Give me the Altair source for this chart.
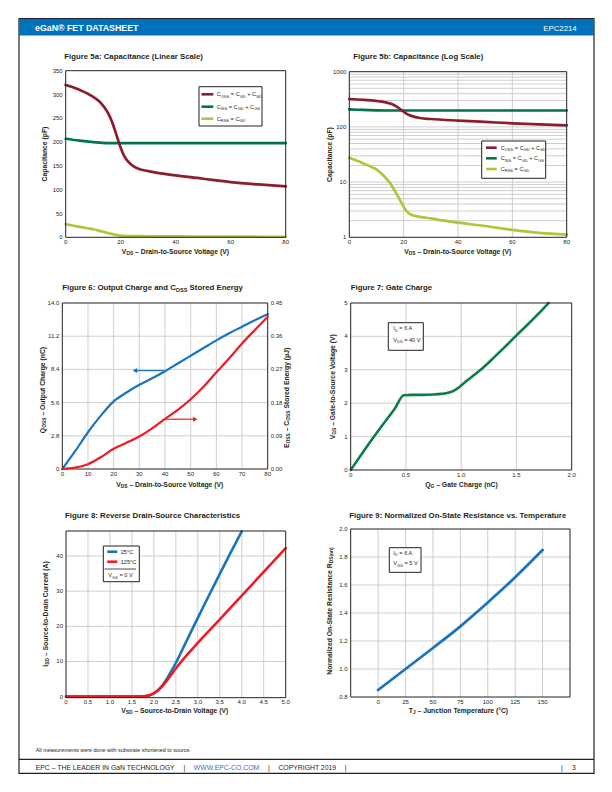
import altair as alt
import pandas as pd

W, H = 612, 792
FONT = "Liberation Sans, Arial, sans-serif"
INK = "#231F20"
GRID = "#C8C8C8"
C_COSS = "#8C1D2F"
C_CISS = "#00754A"
C_CRSS = "#A8C93A"
BLUE = "#1B75BC"
RED = "#ED1C24"
GREEN = "#0B7D48"
HEADER = "#0072BC"
LINK = "#3A6DB5"

# ---------------- data ----------------
# Figure 5: capacitance vs V_DS
coss_vds = [0, 5, 10, 13, 15, 16, 17, 18, 19, 20, 21, 22, 24, 26, 30, 40, 50, 60, 70, 80]
coss_pf = [320, 310, 295, 281, 265, 254, 240, 223, 205, 188, 174, 164, 152, 145, 139, 130, 123, 116, 111, 107]
ciss_vds = [0, 5, 10, 15, 20, 40, 60, 80]
ciss_pf = [207, 203, 200, 198, 198, 198, 198, 198]
crss_vds = [0, 5, 8, 10, 12, 14, 15, 16, 17, 18, 19, 20, 21, 22, 24, 26, 30, 35, 40, 50, 60, 70, 80]
crss_pf = [27.5, 22, 19, 17, 14, 11, 9.6, 8, 6.6, 5.4, 4.4, 3.6, 3.0, 2.7, 2.45, 2.35, 2.2, 2.0, 1.84, 1.6, 1.36, 1.2, 1.12]

# Figure 6: output charge and stored energy
q_vds = [0, 5, 10, 15, 20, 25, 30, 35, 40, 45, 50, 55, 60, 65, 70, 75, 80]
qoss_nc = [0, 1.5, 3.1, 4.5, 5.7, 6.45, 7.1, 7.65, 8.25, 8.9, 9.55, 10.2, 10.85, 11.45, 12.0, 12.55, 13.05]
eoss_uj = [0, 0.004, 0.013, 0.032, 0.055, 0.071, 0.088, 0.11, 0.136, 0.16, 0.189, 0.223, 0.262, 0.300, 0.340, 0.377, 0.413]

# Figure 7: gate charge
qg_nc = [0, 0.1, 0.2, 0.3, 0.4, 0.48, 0.55, 0.65, 0.75, 0.82, 0.88, 0.93, 0.97, 1.0, 1.05, 1.1, 1.2, 1.3, 1.4, 1.5, 1.6, 1.7, 1.79]
vgs_v = [0, 0.48, 0.95, 1.4, 1.84, 2.24, 2.25, 2.25, 2.26, 2.28, 2.31, 2.37, 2.45, 2.53, 2.67, 2.8, 3.07, 3.38, 3.7, 4.03, 4.35, 4.68, 5.0]

# Figure 8: reverse drain-source characteristics
vsd_25 = [0, 0.5, 1.0, 1.5, 1.7, 1.8, 1.9, 2.0, 2.1, 2.2, 2.3, 2.4, 2.5, 2.75, 3.0, 3.25, 3.5, 3.75, 4.0]
isd_25 = [0, 0, 0, 0, 0.02, 0.08, 0.3, 0.9, 1.9, 3.3, 5.2, 7.3, 9.6, 16.0, 22.4, 28.7, 34.9, 41.0, 47.0]
vsd_125 = [0, 0.5, 1.0, 1.5, 1.7, 1.8, 1.9, 2.0, 2.1, 2.2, 2.3, 2.4, 2.5, 2.75, 3.0, 3.5, 4.0, 4.5, 5.0]
isd_125 = [0, 0, 0, 0, 0.05, 0.15, 0.45, 1.0, 1.9, 3.1, 4.6, 6.3, 8.0, 11.8, 15.3, 22.0, 28.7, 35.5, 42.2]

# Figure 9: normalized on-state resistance
tj_c = [0, 25, 50, 75, 100, 125, 150]
rds_norm = [0.85, 1.0, 1.15, 1.305, 1.475, 1.655, 1.85]

# tick values and labels
ticks_5_x = [0, 20, 40, 60, 80]
labels_5_x = ["0", "20", "40", "60", "80"]
ticks_5a_y = [0, 50, 100, 150, 200, 250, 300, 350]
labels_5a_y = ["0", "50", "100", "150", "200", "250", "300", "350"]
ticks_5b_y = [1, 10, 100, 1000]
labels_5b_y = ["1", "10", "100", "1000"]
ticks_6_x = [0, 10, 20, 30, 40, 50, 60, 70, 80]
labels_6_x = ["0", "10", "20", "30", "40", "50", "60", "70", "80"]
ticks_6_q = [0, 2.8, 5.6, 8.4, 11.2, 14.0]
labels_6_q = ["0", "2.8", "5.6", "8.4", "11.2", "14.0"]
ticks_6_e = [0, 0.09, 0.18, 0.27, 0.36, 0.45]
labels_6_e = ["0.00", "0.09", "0.18", "0.27", "0.36", "0.45"]
ticks_7_x = [0, 0.5, 1.0, 1.5, 2.0]
labels_7_x = ["0", "0.5", "1.0", "1.5", "2.0"]
ticks_7_y = [0, 1, 2, 3, 4, 5]
labels_7_y = ["0", "1", "2", "3", "4", "5"]
ticks_8_x = [0, 0.5, 1.0, 1.5, 2.0, 2.5, 3.0, 3.5, 4.0, 4.5, 5.0]
labels_8_x = ["0", "0.5", "1.0", "1.5", "2.0", "2.5", "3.0", "3.5", "4.0", "4.5", "5.0"]
ticks_8_y = [0, 10, 20, 30, 40]
labels_8_y = ["0", "10", "20", "30", "40"]
ticks_9_x = [0, 25, 50, 75, 100, 125, 150]
labels_9_x = ["0", "25", "50", "75", "100", "125", "150"]
ticks_9_y = [0.8, 1.0, 1.2, 1.4, 1.6, 1.8, 2.0]
labels_9_y = ["0.8", "1.0", "1.2", "1.4", "1.6", "1.8", "2.0"]

TK = 6.0  # tick label size


# ---------------- helpers ----------------
def sc(dom, rng, typ="linear"):
    return alt.Scale(type=typ, domain=dom, range=rng, nice=False, zero=False)


def curve(xv, yv, xs, ys, color, width):
    df = pd.DataFrame({"x": xv, "y": yv})
    return alt.Chart(df).mark_line(color=color, strokeWidth=width, interpolate="monotone",
                                   strokeCap="round").encode(
        x=alt.X("x:Q", scale=xs, axis=None),
        y=alt.Y("y:Q", scale=ys, axis=None))


def vgrid(vals, ydom, xs, ys):
    df = pd.DataFrame({"g": vals, "a": [ydom[0]] * len(vals), "b": [ydom[1]] * len(vals)})
    return alt.Chart(df).mark_rule(color=GRID, strokeWidth=0.9).encode(
        x=alt.X("g:Q", scale=xs, axis=None),
        y=alt.Y("a:Q", scale=ys, axis=None), y2="b:Q")


def hgrid(vals, xdom, xs, ys):
    df = pd.DataFrame({"g": vals, "a": [xdom[0]] * len(vals), "b": [xdom[1]] * len(vals)})
    return alt.Chart(df).mark_rule(color=GRID, strokeWidth=0.9).encode(
        y=alt.Y("g:Q", scale=ys, axis=None),
        x=alt.X("a:Q", scale=xs, axis=None), x2="b:Q")


def frame(xdom, ydom, xs, ys):
    df = pd.DataFrame({"x0": [xdom[0]], "x1": [xdom[1]], "y0": [ydom[0]], "y1": [ydom[1]]})
    return alt.Chart(df).mark_rect(fillOpacity=0, stroke=INK, strokeWidth=1).encode(
        x=alt.X("x0:Q", scale=xs, axis=None), x2="x1:Q",
        y=alt.Y("y0:Q", scale=ys, axis=None), y2="y1:Q")


def xlabels(vals, labels, xs, ys, y0):
    df = pd.DataFrame({"v": vals, "t": labels, "a": [y0] * len(vals)})
    return alt.Chart(df).mark_text(font=FONT, fontSize=TK, color=INK, baseline="top",
                                   align="center", dy=1.5).encode(
        x=alt.X("v:Q", scale=xs, axis=None), y=alt.Y("a:Q", scale=ys, axis=None), text="t:N")


def ylabels(vals, labels, xs, ys, x0, side="left"):
    df = pd.DataFrame({"v": vals, "t": labels, "a": [x0] * len(vals)})
    left = side == "left"
    return alt.Chart(df).mark_text(font=FONT, fontSize=TK, color=INK, baseline="middle",
                                   align="right" if left else "left",
                                   dx=-3 if left else 3).encode(
        y=alt.Y("v:Q", scale=ys, axis=None), x=alt.X("a:Q", scale=xs, axis=None), text="t:N")


def arrow(x0, x1, y, xs, ys, color, shape):
    shaft = alt.Chart(pd.DataFrame({"a": [x0], "b": [x1], "y": [y]})).mark_rule(
        color=color, strokeWidth=1.2).encode(
        x=alt.X("a:Q", scale=xs, axis=None), x2="b:Q",
        y=alt.Y("y:Q", scale=ys, axis=None))
    head = alt.Chart(pd.DataFrame({"x": [x1], "y": [y]})).mark_point(
        shape=shape, filled=True, color=color, size=26, opacity=1).encode(
        x=alt.X("x:Q", scale=xs, axis=None),
        y=alt.Y("y:Q", scale=ys, axis=None))
    return [shaft, head]


# ---------------- rich text (subscripts) ----------------
UP = "ABCDEFGHIJKLMNOPQRSTUVWXYZ"
LO = "abcdefghijklmnopqrstuvwxyz"
REG_W = dict(zip(UP, [667, 667, 722, 722, 667, 611, 778, 722, 278, 500, 667, 556, 833, 722, 778, 667, 778, 722, 667, 611, 722, 667, 944, 667, 667, 611]))
REG_W.update(zip(LO, [556, 556, 500, 556, 556, 278, 556, 556, 222, 222, 500, 222, 833, 556, 556, 556, 556, 333, 500, 278, 556, 500, 722, 500, 500, 500]))
BOLD_W = dict(zip(UP, [722, 722, 722, 722, 667, 611, 778, 722, 278, 556, 722, 611, 833, 722, 778, 667, 778, 722, 667, 611, 722, 667, 944, 667, 667, 611]))
BOLD_W.update(zip(LO, [556, 611, 556, 611, 556, 333, 611, 611, 278, 278, 556, 278, 889, 611, 611, 611, 611, 389, 556, 333, 611, 556, 778, 556, 556, 500]))
PUNCT = {" ": 278, ".": 278, ",": 278, ":": 300, "-": 333, "\u2013": 556, "(": 333, ")": 333,
         "=": 584, "+": 584, "\u00b0": 400, "\u03bc": 576, "\u00ae": 737, "|": 260, "/": 278}
for d in (REG_W, BOLD_W):
    d.update(PUNCT)
    d.update({c: 556 for c in "0123456789"})
SUB = 0.72

ROWS = []


def parse(s):
    segs, buf, i = [], "", 0
    while i < len(s):
        if s.startswith("_{", i):
            if buf:
                segs.append((buf, False))
                buf = ""
            j = s.index("}", i)
            segs.append((s[i + 2:j], True))
            i = j + 1
        else:
            buf += s[i]
            i += 1
    if buf:
        segs.append((buf, False))
    return segs


def rich(s, x, y, size, bold=False, anchor="start", angle=0, color=INK):
    table = BOLD_W if bold else REG_W

    def width(t, fs):
        return sum(table.get(c, 556) for c in t) / 1000.0 * fs

    segs = parse(s)
    ws = [width(t, size * SUB if sub else size) for t, sub in segs]
    total = sum(ws)
    pos = {"start": 0, "middle": -total / 2, "end": -total}[anchor]
    for (t, sub), w in zip(segs, ws):
        fs = size * SUB if sub else size
        lead = len(t) - len(t.lstrip(" "))
        p = pos + width(" " * lead, fs)
        tt = t.strip(" ")
        drop = size * 0.22 if sub else 0
        if tt:
            if angle == 0:
                px, py = x + p, y + drop
            else:
                px, py = x + drop, y - p
            ROWS.append(dict(x=px, y=py, text=tt, size=fs, angle=angle, color=color, bold=bold))
        pos += w
    return x + pos


# ---------------- panels ----------------
# Figure 5a
xs5a = sc([0, 80], [65.7, 285.7])
ys5a = sc([0, 350], [237.3, 70.7])
p5a = alt.layer(
    curve(ciss_vds, ciss_pf, xs5a, ys5a, C_CISS, 2.7),
    curve(coss_vds, coss_pf, xs5a, ys5a, C_COSS, 2.7),
    curve(crss_vds, crss_pf, xs5a, ys5a, C_CRSS, 2.7),
    frame([0, 80], [0, 350], xs5a, ys5a),
    xlabels(ticks_5_x, labels_5_x, xs5a, ys5a, 0),
    ylabels(ticks_5a_y, labels_5a_y, xs5a, ys5a, 0),
)

# Figure 5b
xs5b = sc([0, 80], [349.3, 566.7])
ys5b = sc([1, 1000], [237.3, 71.7], "log")
log_grid = [m * 10 ** e for e in range(3) for m in range(1, 10)][1:]
p5b = alt.layer(
    hgrid(log_grid, [0, 80], xs5b, ys5b),
    vgrid([20, 40, 60], [1, 1000], xs5b, ys5b),
    curve(ciss_vds, ciss_pf, xs5b, ys5b, C_CISS, 2.7),
    curve(coss_vds, coss_pf, xs5b, ys5b, C_COSS, 2.7),
    curve(crss_vds, crss_pf, xs5b, ys5b, C_CRSS, 2.7),
    frame([0, 80], [1, 1000], xs5b, ys5b),
    xlabels(ticks_5_x, labels_5_x, xs5b, ys5b, 1),
    ylabels(ticks_5b_y, labels_5b_y, xs5b, ys5b, 0),
)

# Figure 6
xs6 = sc([0, 80], [62.3, 267.7])
yq6 = sc([0, 14], [469, 303])
ye6 = sc([0, 0.45], [469, 303])
p6_left = alt.layer(
    vgrid([10, 20, 30, 40, 50, 60, 70], [0, 14], xs6, yq6),
    hgrid([2.8, 5.6, 8.4, 11.2], [0, 80], xs6, yq6),
    curve(q_vds, qoss_nc, xs6, yq6, BLUE, 2.2),
    *arrow(39.5, 28.3, 8.3, xs6, yq6, BLUE, "triangle-left"),
    frame([0, 80], [0, 14], xs6, yq6),
    xlabels(ticks_6_x, labels_6_x, xs6, yq6, 0),
    ylabels(ticks_6_q, labels_6_q, xs6, yq6, 0),
)
p6_right = alt.layer(
    curve(q_vds, eoss_uj, xs6, ye6, RED, 2.2),
    *arrow(40.2, 51.8, 0.135, xs6, ye6, RED, "triangle-right"),
    ylabels(ticks_6_e, labels_6_e, xs6, ye6, 80, side="right"),
)
p6 = alt.layer(p6_left, p6_right).resolve_scale(y="independent")

# Figure 7
xs7 = sc([0, 2], [350.7, 571.7])
ys7 = sc([0, 5], [470, 303])
p7 = alt.layer(
    vgrid([0.5, 1.0, 1.5], [0, 5], xs7, ys7),
    hgrid([1, 2, 3, 4], [0, 2], xs7, ys7),
    curve(qg_nc, vgs_v, xs7, ys7, GREEN, 2.6),
    frame([0, 2], [0, 5], xs7, ys7),
    xlabels(ticks_7_x, labels_7_x, xs7, ys7, 0),
    ylabels(ticks_7_y, labels_7_y, xs7, ys7, 0),
)

# Figure 8
xs8 = sc([0, 5], [66, 285.7])
ys8 = sc([-0.3, 47.1], [697.7, 531])
p8 = alt.layer(
    vgrid([0.5, 1.0, 1.5, 2.0, 2.5, 3.0, 3.5, 4.0, 4.5], [-0.3, 47.1], xs8, ys8),
    hgrid([10, 20, 30, 40], [0, 5], xs8, ys8),
    curve(vsd_25, isd_25, xs8, ys8, BLUE, 2.6),
    curve(vsd_125, isd_125, xs8, ys8, RED, 2.6),
    frame([0, 5], [-0.3, 47.1], xs8, ys8),
    xlabels(ticks_8_x, labels_8_x, xs8, ys8, -0.3),
    ylabels(ticks_8_y, labels_8_y, xs8, ys8, 0),
)

# Figure 9
xs9 = sc([-25, 175], [350.7, 570])
ys9 = sc([0.8, 2.0], [697, 529])
p9 = alt.layer(
    vgrid([0, 25, 50, 75, 100, 125, 150], [0.8, 2.0], xs9, ys9),
    hgrid([1.0, 1.2, 1.4, 1.6, 1.8], [-25, 175], xs9, ys9),
    curve(tj_c, rds_norm, xs9, ys9, BLUE, 2.8),
    frame([-25, 175], [0.8, 2.0], xs9, ys9),
    xlabels(ticks_9_x, labels_9_x, xs9, ys9, 0.8),
    ylabels(ticks_9_y, labels_9_y, xs9, ys9, -25),
)


# ---------------- page decoration ----------------
def px_rect(df, **mk):
    return alt.Chart(df).mark_rect(**mk).encode(
        x=alt.X("x0:Q", scale=None), x2="x1:Q", y=alt.Y("y0:Q", scale=None), y2="y1:Q")


header_bar = px_rect(pd.DataFrame({"x0": [19.5], "x1": [593.5], "y0": [19], "y1": [35.5]}),
                     color=HEADER)
page_frame = px_rect(pd.DataFrame({"x0": [19], "x1": [594], "y0": [18.5], "y1": [773.3]}),
                     fillOpacity=0, stroke=INK, strokeWidth=1.2)
legend_boxes = px_rect(pd.DataFrame({
    "x0": [199, 481.7, 388.3, 103.3, 389.3],
    "x1": [262, 545.7, 423.3, 139.3, 421],
    "y0": [86.7, 141, 322.7, 546, 547.7],
    "y1": [126, 178.3, 350.3, 581.7, 572.3]}),
    fill="white", stroke=INK, strokeWidth=1)

footer_rule = alt.Chart(pd.DataFrame({"x0": [19], "x1": [594], "y": [759.3]})).mark_rule(
    color=INK, strokeWidth=1.2).encode(
    x=alt.X("x0:Q", scale=None), x2="x1:Q", y=alt.Y("y:Q", scale=None))

key_lines = alt.Chart(pd.DataFrame({
    "x0": [201.5, 201.5, 201.5, 486, 486, 486, 107.3, 107.3],
    "x1": [213.3, 213.3, 213.3, 496.7, 496.7, 496.7, 117.3, 117.3],
    "y": [94.3, 106.7, 118.7, 147.7, 158.3, 169, 551.7, 561.7],
    "c": [C_COSS, C_CISS, C_CRSS, C_COSS, C_CISS, C_CRSS, BLUE, RED]})).mark_rule(
    strokeWidth=2.6).encode(
    x=alt.X("x0:Q", scale=None), x2="x1:Q", y=alt.Y("y:Q", scale=None),
    color=alt.Color("c:N", scale=None))

sep_line = alt.Chart(pd.DataFrame({"x0": [104.5], "x1": [136], "y": [569]})).mark_rule(
    color=INK, strokeWidth=0.8).encode(
    x=alt.X("x0:Q", scale=None), x2="x1:Q", y=alt.Y("y:Q", scale=None))

# ---------------- texts ----------------
rich("eGaN\u00ae FET DATASHEET", 35, 30.8, 8.8, bold=True, color="white")
rich("EPC2214", 576.7, 30.8, 7.8, anchor="end", color="white")

TS = 7.8
rich("Figure 5a: Capacitance (Linear Scale)", 64.3, 58.5, TS, bold=True)
rich("Figure 5b: Capacitance (Log Scale)", 353.3, 58.5, TS, bold=True)
rich("Figure 6: Output Charge and C_{OSS} Stored Energy", 62.3, 290.3, TS, bold=True)
rich("Figure 7: Gate Charge", 350.7, 290.3, TS, bold=True)
rich("Figure 8: Reverse Drain-Source Characteristics", 65, 518.3, TS, bold=True)
rich("Figure 9: Normalized On-State Resistance vs. Temperature", 349.3, 517.7, TS, bold=True)

AS = 6.8
rich("V_{DS} \u2013 Drain-to-Source Voltage (V)", 175.7, 253.5, AS, bold=True, anchor="middle")
rich("Capacitance (pF)", 47, 154, AS, bold=True, anchor="middle", angle=270)
rich("V_{DS} \u2013 Drain-to-Source Voltage (V)", 458, 253.5, AS, bold=True, anchor="middle")
rich("Capacitance (pF)", 332, 154.5, AS, bold=True, anchor="middle", angle=270)
rich("V_{DS} \u2013 Drain-to-Source Voltage (V)", 170, 486.5, AS, bold=True, anchor="middle")
rich("Q_{OSS} \u2013 Output Charge (nC)", 45, 390, AS, bold=True, anchor="middle", angle=270)
rich("E_{OSS} \u2013 C_{OSS} Stored Energy (\u03bcJ)", 288.5, 398, AS, bold=True, anchor="middle", angle=270)
rich("Q_{G} \u2013 Gate Charge (nC)", 461.5, 486.5, AS, bold=True, anchor="middle")
rich("V_{GS} \u2013 Gate-to-Source Voltage (V)", 334.5, 386.5, AS, bold=True, anchor="middle", angle=270)
rich("V_{SD} \u2013 Source-to-Drain Voltage (V)", 175, 713, AS, bold=True, anchor="middle")
rich("I_{SD} \u2013 Source-to-Drain Current (A)", 48, 614, AS, bold=True, anchor="middle", angle=270)
rich("T_{J} \u2013 Junction Temperature (\u00b0C)", 458.7, 713, AS, bold=True, anchor="middle")
rich("Normalized On-State Resistance R_{DS(on)}", 332, 611, AS, bold=True, anchor="middle", angle=270)

LS = 5.6
for lx, ys_ in ((216.7, (96.3, 108.7, 120.7)), (500.7, (149.7, 160.3, 171))):
    rich("C_{OSS} = C_{GD} + C_{SD}", lx, ys_[0], LS)
    rich("C_{ISS} = C_{GD} + C_{GS}", lx, ys_[1], LS)
    rich("C_{RSS} = C_{GD}", lx, ys_[2], LS)
rich("I_{D} = 6 A", 393.3, 330.3, LS)
rich("V_{DS} = 40 V", 393.3, 342, LS)
rich("25\u00b0C", 120.7, 553.7, LS)
rich("125\u00b0C", 120.7, 563.7, LS)
rich("V_{GS} = 0 V", 108.3, 577.3, LS)
rich("I_{D} = 6 A", 393.3, 554.7, LS)
rich("V_{GS} = 5 V", 393.3, 565.3, LS)

FS = 6.85
GAP = 8.5
rich("All measurements were done with substrate shortened to source.", 35.7, 751.5, 5.4)
fx = rich("EPC \u2013 THE LEADER IN GaN TECHNOLOGY", 35.7, 770, FS)
fx = rich("|", fx + GAP, 770, FS)
fx = rich("WWW.EPC-CO.COM", fx + GAP, 770, FS, color=LINK)
fx = rich("|", fx + GAP, 770, FS)
fx = rich("COPYRIGHT 2019", fx + GAP, 770, FS)
fx = rich("|", fx + GAP, 770, FS)
rich("|", 561, 770, FS)
rich("3", 572, 770, FS)

tdf = pd.DataFrame(ROWS)


def text_layer(df, weight):
    return alt.Chart(df).mark_text(font=FONT, fontWeight=weight, align="left",
                                   baseline="alphabetic").encode(
        x=alt.X("x:Q", scale=None), y=alt.Y("y:Q", scale=None),
        text="text:N",
        size=alt.Size("size:Q", scale=None),
        angle=alt.Angle("angle:Q", scale=None),
        color=alt.Color("color:N", scale=None))


bold_text = text_layer(tdf[tdf["bold"]].drop(columns="bold"), "bold")
reg_text = text_layer(tdf[~tdf["bold"]].drop(columns="bold"), "normal")

chart = alt.layer(
    header_bar, page_frame, footer_rule,
    p5a, p5b, p6, p7, p8, p9,
    legend_boxes, key_lines, sep_line,
    bold_text, reg_text,
).resolve_scale(x="independent", y="independent").properties(
    width=W, height=H, padding=0, autosize=alt.AutoSizeParams(type="none"),
    background="white",
).configure_view(strokeWidth=0)

chart.save("out.html", embed_options={"renderer": "svg", "actions": False})
